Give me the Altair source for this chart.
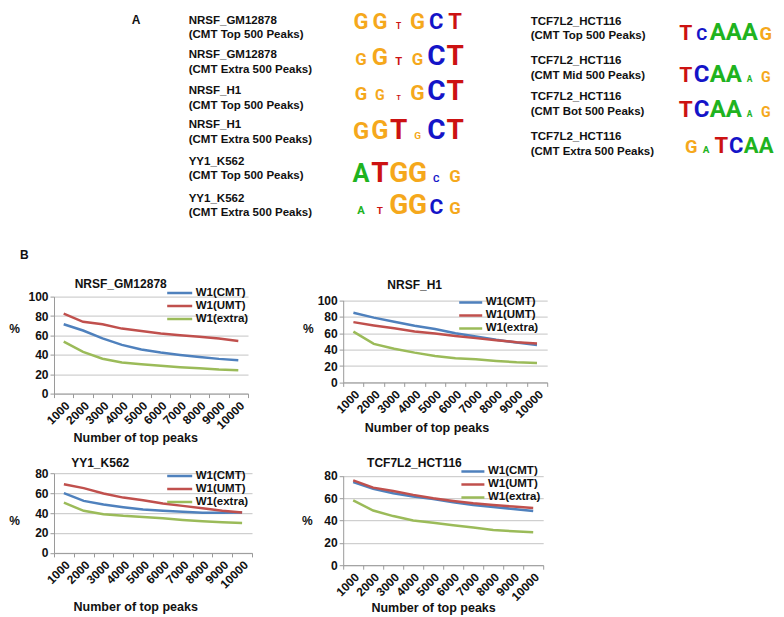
import altair as alt
import pandas as pd

# ---------------- data ----------------
PEAKS = ["1000", "2000", "3000", "4000", "5000", "6000", "7000", "8000", "9000", "10000"]
SERIES = ["W1(CMT)", "W1(UMT)", "W1(extra)"]

gm_cmt = [71.5, 65, 57, 50.2, 45.4, 42.3, 39.9, 37.8, 35.8, 34.4]
gm_umt = [82.5, 74, 71.5, 67, 64.6, 61.9, 60.2, 58.5, 56.7, 54.3]
gm_ext = [53.6, 43, 36, 32, 30.3, 28.6, 27.2, 26.2, 24.8, 24]

h1_cmt = [85, 79, 74, 69, 65, 60, 56, 52, 48.6, 45.7]
h1_umt = [73.5, 69.5, 66, 62, 59.5, 56.5, 54, 51.5, 49, 47.3]
h1_ext = [62, 47, 41, 36.3, 32.3, 29.5, 28.2, 26.2, 24.6, 23.8]

yy1_cmt = [60, 52.2, 48.5, 45.9, 43.5, 42.2, 41.2, 40.2, 40.2, 40.5]
yy1_umt = [69, 65, 59.6, 55.5, 52.9, 49.5, 47.2, 44.9, 42.2, 40.5]
yy1_ext = [50.5, 42.2, 38.9, 37.2, 36.1, 34.8, 33.1, 31.8, 30.8, 30.1]

tcf_cmt = [74.5, 68.5, 64.5, 61.5, 59.4, 56.4, 54, 52.2, 50.4, 48.6]
tcf_umt = [76, 69.5, 66.5, 63, 60, 57.6, 55.5, 54, 52.5, 51.3]
tcf_ext = [58, 49, 44, 40, 38, 35.8, 33.7, 31.6, 30.4, 29.5]

left_names = ["NRSF_GM12878", "NRSF_GM12878", "NRSF_H1", "NRSF_H1", "YY1_K562", "YY1_K562"]
left_sets = ["(CMT Top 500 Peaks)", "(CMT Extra 500 Peaks)", "(CMT Top 500 Peaks)",
             "(CMT Extra 500 Peaks)", "(CMT Top 500 Peaks)", "(CMT Extra 500 Peaks)"]
left_motifs = ["GGTGCT", "GGTGCT", "GGTGCT", "GGTGCT", "ATGGCG", "ATGGCG"]
left_bits = [
    [1.67, 1.67, 0.40, 1.53, 1.33, 1.47],
    [0.80, 1.13, 0.53, 0.80, 1.67, 1.33],
    [0.87, 0.67, 0.33, 1.00, 1.67, 1.33],
    [1.13, 1.20, 1.53, 0.47, 1.33, 1.67],
    [1.20, 1.67, 2.00, 2.00, 0.47, 0.80],
    [0.53, 0.47, 1.67, 1.67, 1.00, 0.80],
]
right_names = ["TCF7L2_HCT116", "TCF7L2_HCT116", "TCF7L2_HCT116", "TCF7L2_HCT116"]
right_sets = ["(CMT Top 500 Peaks)", "(CMT Mid 500 Peaks)", "(CMT Bot 500 Peaks)", "(CMT Extra 500 Peaks)"]
right_motifs = ["TCAAAG", "TCAAAG", "TCAAAG", "GATCAA"]
right_bits = [
    [1.00, 0.80, 1.80, 1.33, 1.67, 0.87],
    [1.00, 1.20, 1.20, 1.20, 0.40, 0.67],
    [1.07, 1.20, 1.20, 1.20, 0.40, 0.67],
    [0.87, 0.47, 1.20, 1.33, 1.33, 1.33],
]

# ---------------- style / layout ----------------
FONT = "Liberation Sans"
LOGO_FONT = "Roboto"
LINE_COLORS = ["#4F81BD", "#C0504D", "#9BBB59"]
LETTERS = ["A", "C", "G", "T"]
LETTER_COLORS = ["#1FB31F", "#1414C8", "#F5A81C", "#CC1212"]
AXIS_C = "#9a9a9a"
GRID_C = "#c4c4c4"
PX_PER_BIT = 15.0
CAP = 0.711
LEG_ROW = 13.0

OX, OY = 53.3, 8.0          # page position of panel A's box
WA, HA = 720, 208.1

left_label_y = [(20.7, 35), (55, 70), (90.7, 106), (125, 140), (161.7, 175.5), (199.3, 212.7)]
right_label_y = [(21.7, 36), (61, 76), (97.3, 111.7), (136.7, 151.7)]
left_base = [28.5, 65, 100, 139, 182, 214]
right_base = [40, 82, 117, 153]
left_fs_max = [22, 28, 28, 28, 28, 28]
right_fs_max = [24, 24, 24, 22]

# ---------------- panel A ----------------
lab_rows = []
for i, (a, b) in enumerate(zip(left_names, left_sets)):
    lab_rows.append({"x": 188 - OX, "y": left_label_y[i][0] - OY, "t": a})
    lab_rows.append({"x": 188 - OX, "y": left_label_y[i][1] - OY, "t": b})
for i, (a, b) in enumerate(zip(right_names, right_sets)):
    lab_rows.append({"x": 530 - OX, "y": right_label_y[i][0] - OY, "t": a})
    lab_rows.append({"x": 530 - OX, "y": right_label_y[i][1] - OY, "t": b})
lab_df = pd.DataFrame(lab_rows)

tag_df = pd.DataFrame({"x": [135.5 - OX, 23.7 - OX], "y": [20.3 - OY, 255 - OY], "t": ["A", "B"]})

let_rows = []
for i, (m, bits) in enumerate(zip(left_motifs, left_bits)):
    x0, cw = 351.0, 18.8
    for j, (ch, b) in enumerate(zip(m, bits)):
        let_rows.append({"x": x0 + cw * (j + 0.5) - OX, "y": left_base[i] - OY, "letter": ch,
                         "fs": min(b * PX_PER_BIT / CAP, left_fs_max[i])})
for i, (m, bits) in enumerate(zip(right_motifs, right_bits)):
    x0, cw = (677.0, 16.0) if i < 3 else (683.0, 15.0)
    for j, (ch, b) in enumerate(zip(m, bits)):
        let_rows.append({"x": x0 + cw * (j + 0.5) - OX, "y": right_base[i] - OY, "letter": ch,
                         "fs": min(b * PX_PER_BIT / CAP, right_fs_max[i])})
let_df = pd.DataFrame(let_rows)

xsA = alt.Scale(domain=[0, WA], range=[0, WA], nice=False, zero=False)
ysA = alt.Scale(domain=[0, HA], range=[0, HA], nice=False, zero=False)

labels_layer = alt.Chart(lab_df).mark_text(
    align="left", baseline="middle", font=FONT, fontWeight="bold", fontSize=11.5, color="#111111"
).encode(x=alt.X("x:Q", scale=xsA, axis=None), y=alt.Y("y:Q", scale=ysA, axis=None), text="t:N")

tags_layer = alt.Chart(tag_df).mark_text(
    align="center", baseline="middle", font=FONT, fontWeight="bold", fontSize=12, color="#111111"
).encode(x=alt.X("x:Q", scale=xsA, axis=None), y=alt.Y("y:Q", scale=ysA, axis=None), text="t:N")

letters_layer = alt.Chart(let_df).mark_text(
    align="center", baseline="alphabetic", font=LOGO_FONT, fontWeight="bold"
).encode(
    x=alt.X("x:Q", scale=xsA, axis=None),
    y=alt.Y("y:Q", scale=ysA, axis=None),
    text="letter:N",
    size=alt.Size("fs:Q", scale=None, legend=None),
    color=alt.Color("letter:N", scale=alt.Scale(domain=LETTERS, range=LETTER_COLORS), legend=None),
)

panelA = alt.layer(labels_layer, tags_layer, letters_layer).properties(width=WA, height=HA)


# ---------------- panel B ----------------
def line_panel(title, cmt, umt, ext, ymax, w, h, yrange, leg, sym_len, ttl, pct, xt):
    rows = []
    for s, vals in zip(SERIES, [cmt, umt, ext]):
        for p, v in zip(PEAKS, vals):
            rows.append({"peaks": p, "value": v, "series": s})
    df = pd.DataFrame(rows)
    lines = alt.Chart(df).mark_line(strokeWidth=2.5).encode(
        x=alt.X("peaks:O", sort=PEAKS, bandPosition=0.5,
                scale=alt.Scale(type="band", paddingInner=0, paddingOuter=0),
                axis=alt.Axis(title="Number of top peaks", labelAngle=-45, tickBand="extent",
                              labelFont=FONT, labelFontWeight="bold", labelFontSize=12, labelColor="#111111",
                              titleFont=FONT, titleFontWeight="bold", titleFontSize=12.5, titleColor="#111111",
                              titleX=xt[0], titleY=xt[1], titleAlign="center", titleBaseline="middle",
                              domainColor=AXIS_C, tickColor=AXIS_C, tickSize=4, grid=False,
                              labelOverlap=False, labelPadding=2)),
        y=alt.Y("value:Q",
                scale=alt.Scale(domain=[0, ymax], range=yrange, nice=False, zero=True),
                axis=alt.Axis(values=list(range(0, ymax + 1, 20)), title="%", titleAngle=0,
                              titleX=pct[0], titleY=pct[1], titleAlign="left", titleBaseline="middle",
                              titleFont=FONT, titleFontWeight="bold", titleFontSize=12, titleColor="#111111",
                              labelFont=FONT, labelFontWeight="bold", labelFontSize=12, labelColor="#111111",
                              grid=True, gridColor=GRID_C, domainColor=AXIS_C, tickColor=AXIS_C,
                              tickSize=4, labelPadding=2)),
        color=alt.Color("series:N", sort=SERIES,
                        scale=alt.Scale(domain=SERIES, range=LINE_COLORS),
                        legend=alt.Legend(orient="none", legendX=leg[0], legendY=leg[1] - LEG_ROW / 2,
                                          title=None, symbolType="stroke", symbolSize=sym_len * sym_len,
                                          symbolStrokeWidth=2.5, labelFont=FONT, labelFontWeight="bold",
                                          labelFontSize=11.5, labelColor="#111111", labelOffset=2,
                                          clipHeight=LEG_ROW, rowPadding=0, padding=0, offset=0)),
    )
    ttl_layer = alt.Chart(pd.DataFrame({"t": [title]})).mark_text(
        align="center", baseline="middle", font=FONT, fontWeight="bold", fontSize=12, color="#111111"
    ).encode(text="t:N", x=alt.value(ttl[0]), y=alt.value(ttl[1]))
    return alt.layer(lines, ttl_layer).properties(width=w, height=h)


# leg = (x of legend stroke start, centre of first legend row), relative to the plot's top-left
c1 = line_panel("NRSF_GM12878", gm_cmt, gm_umt, gm_ext, 100, 194, 97, [97, 0],
                (111.7, -3.7), 25, (66.7, -12.7), (-45.3, 31.6), (81.2, 44.3))
c2 = line_panel("NRSF_H1", h1_cmt, h1_umt, h1_ext, 100, 204, 85.8, [85.8, 3.8],
                (114.5, 5.8), 23, (71.5, -11.7), (-40.8, 31.6), (83.3, 45.5))
c3 = line_panel("YY1_K562", yy1_cmt, yy1_umt, yy1_ext, 80, 198, 79.7, [79.7, 0],
                (111.7, 2.7), 25, (46.2, -10.3), (-45.3, 47.7), (81.2, 53.7))
c4 = line_panel("TCF7L2_HCT116", tcf_cmt, tcf_umt, tcf_ext, 80, 200, 92, [92, 2.7],
                (116.7, -1.8), 23, (71.2, -10.3), (-41.6, 47.7), (89.9, 42.4))


def indep(c):
    return c.resolve_scale(color="independent", x="independent", y="independent").resolve_legend(
        color="independent")


grid = indep(alt.concat(c1, c2, c3, c4, columns=2, bounds="flush",
                        spacing={"row": 79.6, "column": 91.2}))

chart = indep(alt.vconcat(panelA, grid, spacing=79.6, bounds="flush")).properties(
    padding=0
).configure_view(stroke=None)

chart.save("out.html", embed_options={"renderer": "svg", "actions": False})
